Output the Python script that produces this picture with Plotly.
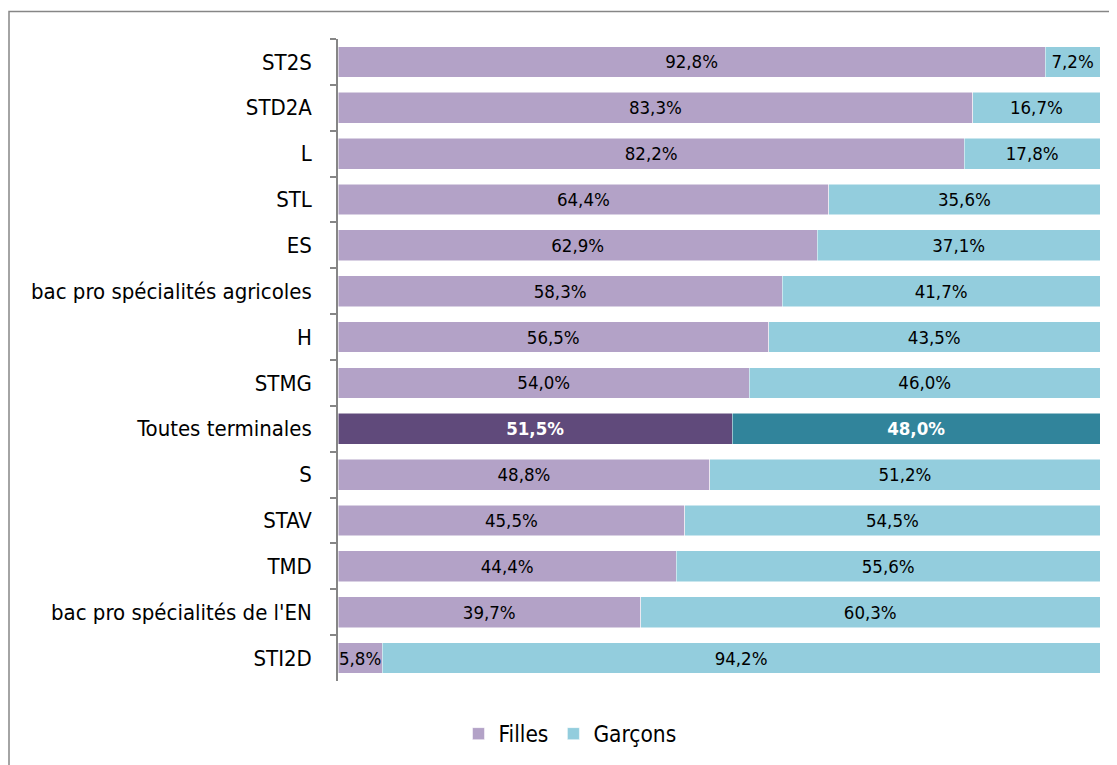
import plotly.graph_objects as go

categories = ["ST2S", "STD2A", "L", "STL", "ES", "bac pro spécialités agricoles", "H",
              "STMG", "Toutes terminales", "S", "STAV", "TMD",
              "bac pro spécialités de l'EN", "STI2D"]
filles = [92.8, 83.3, 82.2, 64.4, 62.9, 58.3, 56.5, 54.0, 51.5, 48.8, 45.5, 44.4, 39.7, 5.8]
garcons = [7.2, 16.7, 17.8, 35.6, 37.1, 41.7, 43.5, 46.0, 48.0, 51.2, 54.5, 55.6, 60.3, 94.2]
highlight = "Toutes terminales"

FONT = "Liberation Sans Narrow, Arial Narrow, DejaVu Sans Condensed, Liberation Sans, sans-serif"

def fmt(v, cat):
    s = f"{v:.1f}".replace(".", ",") + "%"
    return f"<b>{s}</b>" if cat == highlight else s

def colors(light, dark):
    return [dark if c == highlight else light for c in categories]

fig = go.Figure()
for name, vals, light, dark in [("Filles", filles, "#B3A2C7", "#604A7B"),
                                 ("Garçons", garcons, "#93CDDD", "#31849B")]:
    fig.add_trace(go.Bar(
        y=categories, x=vals, name=name, orientation="h",
        marker=dict(color=colors(light, dark), line=dict(color="white", width=0.5)),
        text=[fmt(v, c) for v, c in zip(vals, categories)],
        textposition="inside", insidetextanchor="middle", textangle=0,
        constraintext="none",
        textfont=dict(family=FONT, size=18.5,
                      color=["white" if c == highlight else "black" for c in categories]),
        hoverinfo="skip",
    ))

# page offset of the body (8px) compensated
OFF = 8
W, H = 1117, 765
L, T = 338 - OFF, 39 - OFF
RIGHT, BOTTOM = 1100 - OFF, 681 - OFF
R, B = W - RIGHT, H - BOTTOM
pw, ph = RIGHT - L, BOTTOM - T

def px(x):
    return (x - OFF - L) / pw

def py(y):
    return (BOTTOM - (y - OFF)) / ph

fig.update_layout(
    width=W, height=H, barmode="stack", barnorm="percent", bargap=0.33,
    margin=dict(l=L, r=R, t=T, b=B, autoexpand=False),
    paper_bgcolor="white", plot_bgcolor="white",
    font=dict(family=FONT, size=22, color="black"),
    showlegend=True,
    legend=dict(orientation="h", x=px(570), xanchor="center", y=py(734), yanchor="middle",
                font=dict(size=22.5), traceorder="normal", itemwidth=30),
    xaxis=dict(range=[0, 100], visible=False, fixedrange=True),
    yaxis=dict(autorange="reversed", showline=True, linecolor="#868686", linewidth=1.5,
               ticks="outside", tickson="boundaries", ticklen=6, tickcolor="#868686",
               tickwidth=1.5, showgrid=False, ticklabelstandoff=20, fixedrange=True,
               tickfont=dict(size=22)),
    shapes=[dict(type="rect", xref="paper", yref="paper",
                 x0=px(9), x1=px(1130), y0=py(780), y1=py(11.5),
                 line=dict(color="#868686", width=1.5), fillcolor="rgba(0,0,0,0)", layer="below")],
)

fig.write_html("out.html")
